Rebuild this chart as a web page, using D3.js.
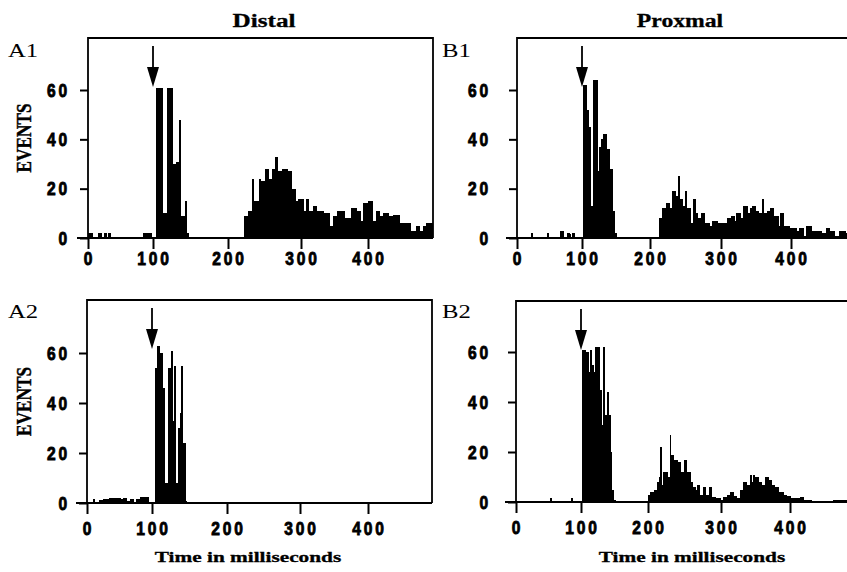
<!DOCTYPE html>
<html>
<head>
<meta charset="utf-8">
<script src="https://cdn.jsdelivr.net/npm/d3@7"></script>
<style>
  body { margin: 0; background: #fff; }
</style>
</head>
<body>
<svg id="chart"></svg>
<script>
// Peristimulus histograms, distal vs proximal stimulation (4 panels)

const columnTitles = ["Distal", "Proxmal"];
const xTicks = [0, 100, 200, 300, 400];
const yTicks = [0, 20, 40, 60];
const stimulusMs = 100;
const yAxisLabel = "EVENTS";
const xAxisLabel = "Time in milliseconds";

// bins: [start ms, end ms, events]
const a1Bins = [
  [0, 7, 2], [15, 20, 2], [24, 28, 2], [31, 34, 2], [85, 97, 2],
  [104, 112, 61], [112, 118, 10], [118, 126, 61], [126, 130, 30], [130, 131, 9],
  [131, 135, 31], [135, 137, 48], [137, 142, 9], [142, 144, 15], [144, 147, 2],
  [222, 226, 9], [226, 228, 1], [228, 233, 11], [233, 235, 24], [235, 242, 15],
  [242, 244, 24], [244, 251, 23], [251, 255, 28], [255, 260, 24], [260, 264, 28],
  [264, 267, 33], [267, 274, 27], [274, 281, 28], [281, 287, 27], [287, 292, 20],
  [292, 296, 15], [296, 303, 16], [303, 308, 11], [308, 311, 16], [311, 318, 11],
  [318, 323, 13], [323, 333, 11], [333, 343, 10], [343, 348, 5], [348, 353, 9],
  [353, 365, 11], [365, 375, 8], [375, 383, 12], [383, 388, 11], [388, 393, 7],
  [393, 400, 14], [400, 407, 15], [407, 412, 7], [412, 417, 11], [417, 422, 9],
  [422, 430, 10], [430, 438, 9], [438, 447, 9.5], [447, 464, 6], [464, 472, 3],
  [472, 477, 5], [477, 482, 3], [482, 487, 5], [487, 497, 6]
];

const a2Bins = [
  [9, 12, 1.5], [19, 25, 1.2], [25, 30, 1.8], [30, 34, 1.5], [34, 40, 2],
  [40, 46, 2.2], [46, 52, 2], [52, 56, 1.5], [56, 60, 2], [60, 66, 1],
  [66, 72, 1.5], [72, 76, 0.5], [76, 81, 1.5], [81, 94, 2.5], [94, 104, 0.5],
  [104, 107, 54], [107, 110, 63], [110, 114, 60], [114, 116, 46], [116, 121, 8],
  [121, 125, 54], [125, 127, 61], [127, 129, 33], [129, 131, 55], [131, 134, 8],
  [134, 137, 30], [137, 139, 36], [139, 141, 55], [141, 144, 24], [144, 146, 1]
];

const b1Bins = [
  [21, 23, 2], [46, 49, 2], [66, 72, 3], [77, 80, 2], [80, 82, 1.5], [85, 88, 2],
  [101, 106, 62], [106, 109, 52], [109, 113, 45], [113, 116, 13], [116, 122, 64],
  [122, 125, 27], [125, 128, 37], [128, 131, 40], [131, 136, 42], [136, 141, 36],
  [141, 145, 28], [145, 147, 11], [147, 150, 2],
  [213, 217, 8], [217, 222, 12], [222, 227, 14], [227, 231, 12], [231, 236, 19],
  [236, 240, 17], [240, 242, 25], [242, 245, 16], [245, 249, 13], [249, 251, 19],
  [251, 257, 12], [257, 260, 6], [260, 264, 16], [264, 267, 10], [267, 272, 8],
  [272, 276, 10], [276, 283, 6], [283, 288, 5], [288, 295, 7], [295, 309, 6],
  [309, 314, 8], [314, 319, 9], [319, 322, 7], [322, 328, 10], [328, 332, 8],
  [332, 337, 13], [337, 342, 10], [342, 344, 12], [344, 349, 13], [349, 354, 11],
  [354, 358, 10], [358, 361, 16], [361, 365, 10], [365, 370, 11], [370, 375, 12],
  [375, 382, 9], [382, 384, 5], [384, 389, 10], [389, 398, 5], [398, 408, 4],
  [408, 412, 3], [412, 417, 4], [417, 422, 1], [422, 429, 5], [429, 443, 3],
  [443, 450, 2], [450, 455, 4], [455, 462, 3], [462, 469, 1], [469, 478, 3],
  [478, 485, 2]
];

const b2Bins = [
  [53, 55, 1.5], [68, 84, 0.5], [85, 87, 1.5],
  [102, 107, 61], [107, 111, 60], [111, 114, 52], [114, 116, 61], [116, 119, 55],
  [119, 121, 52], [121, 124, 62], [124, 127, 62], [127, 130, 45], [130, 133, 31],
  [133, 135, 62], [135, 139, 35], [139, 141, 44], [141, 144, 35], [144, 146, 20],
  [146, 149, 5], [149, 151, 1],
  [190, 200, 0.5], [200, 202, 3], [203, 208, 4], [208, 212, 5], [212, 215, 8],
  [215, 217, 10], [217, 219, 22], [219, 221, 7], [221, 226, 12], [226, 230, 10],
  [230, 231, 27], [231, 235, 19], [235, 240, 17], [240, 244, 16], [244, 249, 12],
  [249, 253, 17], [253, 258, 12], [258, 261, 8], [261, 265, 6], [265, 267, 5],
  [267, 271, 7], [271, 275, 3], [275, 278, 6], [278, 283, 3], [283, 287, 6],
  [287, 292, 2], [292, 299, 1.5], [299, 303, 1], [303, 308, 2], [308, 313, 3],
  [313, 318, 4], [318, 323, 2.5], [323, 328, 1.5], [328, 332, 5], [332, 337, 8],
  [337, 342, 7], [342, 344, 11], [344, 347, 8], [347, 349, 11], [349, 354, 10],
  [354, 359, 8], [359, 364, 7], [364, 369, 10], [369, 373, 9], [373, 378, 7],
  [378, 383, 6], [383, 390, 4], [390, 395, 3], [395, 400, 2.5], [400, 414, 1.5],
  [414, 419, 2], [419, 431, 1], [463, 482, 1]
];

// layout (pixels); tick positions follow the slightly uneven scanned axis
const W = 847, H = 572;
const panels = [
  { name: "A1", bins: a1Bins, col: 0, left: 88, top: 38, right: 433, base: 238, y60: 90,
    xPx: [88, 153, 228, 301, 368], nameX: 8, nameY: 57, yLabelRight: 67, xLabelDy: 27, events: true },
  { name: "B1", bins: b1Bins, col: 1, left: 517, top: 38, right: 852, base: 238, y60: 90,
    xPx: [517, 582, 650, 721, 791], nameX: 442, nameY: 57, yLabelRight: 488, xLabelDy: 27 },
  { name: "A2", bins: a2Bins, col: 0, left: 87, top: 300, right: 432, base: 503, y60: 353,
    xPx: [87, 152, 227, 300, 368], nameX: 8, nameY: 318, yLabelRight: 67, xLabelDy: 32, events: true, timeLabel: true },
  { name: "B2", bins: b2Bins, col: 1, left: 516, top: 301, right: 852, base: 502, y60: 352,
    xPx: [516, 581, 648, 721, 790], nameX: 442, nameY: 318, yLabelRight: 488, xLabelDy: 32, timeLabel: true }
];

const serif = "'Liberation Serif', 'Times New Roman', serif";
const sans = "'Liberation Sans', Arial, sans-serif";

const svg = d3.select("#chart").attr("width", W).attr("height", H);
svg.append("rect").attr("width", W).attr("height", H).attr("fill", "#fff");

// text helper: the scan is stretched sideways, so text gets a scale too
function label(parent, x, y, str, o) {
  return parent.append("text")
    .attr("transform", `translate(${x},${y}) rotate(${o.rotate || 0}) scale(${o.sx || 1},${o.sy || 1})`)
    .attr("text-anchor", o.anchor || "start")
    .attr("font-family", o.family)
    .attr("font-size", o.size)
    .attr("font-weight", o.weight || "normal")
    .attr("letter-spacing", o.spacing || null)
    .attr("stroke", o.stroke ? "#000" : null)
    .attr("stroke-width", o.stroke || null)
    .attr("fill", "#000")
    .text(str);
}

// column titles
label(svg, 264, 27, columnTitles[0], { anchor: "middle", family: serif, size: 18.5, weight: "bold", sx: 1.36, stroke: 0.3 });
label(svg, 680, 27, columnTitles[1], { anchor: "middle", family: serif, size: 18.5, weight: "bold", sx: 1.28, stroke: 0.3 });

const digit = { family: sans, size: 19, weight: "bold", sx: 0.82, spacing: "3.5px", stroke: 0.9 };

panels.forEach(p => {
  const x = d3.scaleLinear().domain(xTicks).range(p.xPx);
  const y = d3.scaleLinear().domain([0, 60]).range([p.base, p.y60]);
  const g = svg.append("g");

  const clipId = "clip-" + p.name;
  svg.append("clipPath").attr("id", clipId)
    .append("rect")
    .attr("x", p.left).attr("y", p.top)
    .attr("width", p.right - p.left).attr("height", p.base - p.top);

  // histogram bars
  g.append("g")
    .attr("clip-path", `url(#${clipId})`)
    .attr("shape-rendering", "crispEdges")
    .selectAll("rect")
    .data(p.bins)
    .join("rect")
    .attr("x", d => x(d[0]))
    .attr("width", d => Math.max(1, x(d[1]) - x(d[0]) + 0.6))
    .attr("y", d => y(d[2]))
    .attr("height", d => y(0) - y(d[2]))
    .attr("fill", "#000");

  // frame (open at the bottom, the baseline closes it)
  g.append("path")
    .attr("d", `M${p.left},${p.base}V${p.top}H${p.right}V${p.base}`)
    .attr("fill", "none")
    .attr("stroke", "#000")
    .attr("stroke-width", 1.8);

  // baseline, sticking out a bit to the left
  g.append("line")
    .attr("x1", p.left - 11).attr("x2", p.right)
    .attr("y1", p.base).attr("y2", p.base)
    .attr("stroke", "#000").attr("stroke-width", 2);

  // x axis ticks
  const xAxis = g.append("g")
    .attr("transform", `translate(0,${p.base})`)
    .call(d3.axisBottom(x).tickValues(xTicks).tickSize(11).tickFormat(""));
  xAxis.select(".domain").remove();
  xAxis.selectAll(".tick line").attr("stroke", "#000").attr("stroke-width", 2);

  // y axis ticks
  const yAxis = g.append("g")
    .attr("transform", `translate(${p.left},0)`)
    .call(d3.axisLeft(y).tickValues(yTicks).tickSize(8).tickFormat(""));
  yAxis.select(".domain").remove();
  yAxis.selectAll(".tick line").attr("stroke", "#000").attr("stroke-width", 2);

  // tick labels
  xTicks.forEach(t => {
    label(g, x(t) + 1.5, p.base + p.xLabelDy, t, { ...digit, anchor: "middle" });
  });
  yTicks.forEach(t => {
    label(g, p.yLabelRight + 3, y(t) + 6.8, t, { ...digit, anchor: "end" });
  });

  // stimulus arrow
  const ax = x(stimulusMs);
  g.append("line")
    .attr("x1", ax).attr("x2", ax)
    .attr("y1", p.top + 8).attr("y2", p.top + 32)
    .attr("stroke", "#000").attr("stroke-width", 1.8);
  g.append("path")
    .attr("d", `M${ax - 6},${p.top + 29}L${ax + 6},${p.top + 29}L${ax},${p.top + 49}Z`)
    .attr("fill", "#000");

  // panel name
  label(g, p.nameX, p.nameY, p.name, { family: serif, size: 19, sx: 1.3 });

  if (p.events) {
    const cy = (p.top + p.base) / 2;
    label(g, 31, cy, yAxisLabel, { anchor: "middle", family: serif, size: 15, weight: "bold", rotate: -90, sx: 1.15, sy: 1.45, stroke: 0.3 });
  }
  if (p.timeLabel) {
    const cx = p.col === 0 ? 248 : 692;
    label(g, cx, 562, xAxisLabel, { anchor: "middle", family: serif, size: 15, weight: "bold", sx: 1.42, stroke: 0.3 });
  }
});
</script>
</body>
</html>
